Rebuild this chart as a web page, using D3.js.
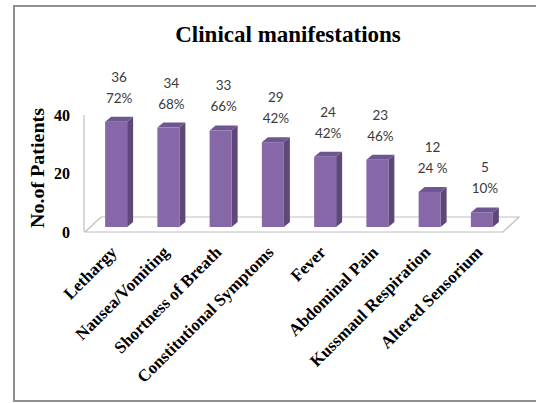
<!DOCTYPE html>
<html>
<head>
<meta charset="utf-8">
<script src="https://cdn.jsdelivr.net/npm/d3@7/dist/d3.min.js"></script>
<style>
  html, body { margin: 0; padding: 0; background: #fff; }
  svg { display: block; }
</style>
</head>
<body>
<svg id="chart" width="536" height="403"></svg>
<script>
// Clinical manifestations: number of patients per symptom
const categories = [
  "Lethargy", "Nausea/Vomiting", "Shortness of Breath", "Constitutional Symptoms",
  "Fever", "Abdominal Pain", "Kussmaul Respiration", "Altered Sensorium"
];
const patients = [36, 34, 33, 29, 24, 23, 12, 5];
const percentLabels = ["72%", "68%", "66%", "42%", "42%", "46%", "24 %", "10%"];
const yTicks = [0, 20, 40];

const svg = d3.select("#chart");

// outer chart frame
svg.append("rect")
  .attr("x", 14).attr("y", 6).attr("width", 540).attr("height", 395)
  .attr("fill", "#fff").attr("stroke", "#8f8f8f").attr("stroke-width", 2);

// title
svg.append("text")
  .attr("x", 288).attr("y", 42)
  .attr("text-anchor", "middle")
  .attr("font-family", "'Liberation Serif', 'Times New Roman', serif")
  .attr("font-weight", "bold").attr("font-size", 23)
  .attr("fill", "#000")
  .text("Clinical manifestations");

// scales
const x = d3.scalePoint().domain(categories).range([90, 508]).padding(0.5);
const y = d3.scaleLinear().domain([0, 40]).range([232, 115]);

// 3D geometry
const floorDx = 16, floorDy = -15;   // depth of the floor
const barDx = 6, barDy = -5;         // depth of each bar
const barW = 22;
const barShift = -5;                  // bars stand mid-way into the floor

// floor
const fl = 85, fr = 503, fy = y(0);
svg.append("path")
  .attr("d", `M${fl},${fy} L${fr},${fy} L${fr + floorDx},${fy + floorDy} L${fl + floorDx},${fy + floorDy} Z`)
  .attr("fill", "#fff").attr("stroke", "#bfbfbf").attr("stroke-width", 1.2);

// vertical axis line
svg.append("line")
  .attr("x1", 84).attr("x2", 84)
  .attr("y1", y(40)).attr("y2", y(0))
  .attr("stroke", "#bfbfbf").attr("stroke-width", 1.2);

// y axis tick labels
const yAxis = d3.axisLeft(y).tickValues(yTicks).tickSize(0).tickPadding(14);
const gy = svg.append("g").attr("transform", "translate(84,0)").call(yAxis);
gy.select(".domain").remove();
gy.selectAll("text")
  .attr("font-family", "'Liberation Serif', 'Times New Roman', serif")
  .attr("font-weight", "bold").attr("font-size", 16).attr("fill", "#000");

// y axis title
svg.append("text")
  .attr("transform", "translate(44,168) rotate(-90)")
  .attr("text-anchor", "middle")
  .attr("font-family", "'Liberation Serif', 'Times New Roman', serif")
  .attr("font-weight", "bold").attr("font-size", 18)
  .attr("textLength", 120).attr("lengthAdjust", "spacingAndGlyphs")
  .attr("fill", "#000")
  .text("No.of Patients");

// bars
const data = categories.map((c, i) => ({ c, v: patients[i], p: percentLabels[i] }));
const bars = svg.append("g").selectAll("g").data(data).join("g");

bars.each(function(d) {
  const g = d3.select(this);
  const x0 = x(d.c) - barW / 2, x1 = x0 + barW;
  const yb = y(0) + barShift, yt = y(d.v) + barShift;
  // side face
  g.append("path")
    .attr("d", `M${x1},${yb} L${x1 + barDx},${yb + barDy} L${x1 + barDx},${yt + barDy} L${x1},${yt} Z`)
    .attr("fill", "#5d4877");
  // top face
  g.append("path")
    .attr("d", `M${x0},${yt} L${x1},${yt} L${x1 + barDx},${yt + barDy} L${x0 + barDx},${yt + barDy} Z`)
    .attr("fill", "#6e5790");
  // front face
  g.append("rect")
    .attr("x", x0).attr("y", yt).attr("width", barW).attr("height", yb - yt)
    .attr("fill", "#8667a8");
  // value labels
  const t = g.append("text")
    .attr("text-anchor", "middle")
    .attr("font-family", "Lato, 'Open Sans', sans-serif")
    .attr("font-size", 13.5).attr("fill", "#3a3a3a");
  t.append("tspan").attr("x", x(d.c) + 3).attr("y", yt - 40).text(d.v);
  t.append("tspan").attr("x", x(d.c) + 3).attr("y", yt - 19).text(d.p);
});

// category labels
const xAxis = d3.axisBottom(x).tickSize(0).tickPadding(0);
const gx = svg.append("g").attr("transform", "translate(-3,249)").call(xAxis);
gx.select(".domain").remove();
gx.selectAll("text")
  .attr("font-family", "'Liberation Serif', 'Times New Roman', serif")
  .attr("font-weight", "bold").attr("font-size", 17).attr("fill", "#000")
  .attr("text-anchor", "end")
  .attr("dy", "0.35em")
  .attr("transform", "rotate(-45)");
</script>
</body>
</html>
